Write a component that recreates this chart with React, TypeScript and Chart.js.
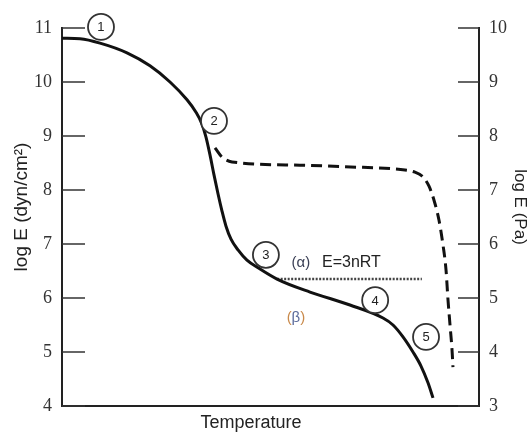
import React, { useEffect, useRef } from "react";
import { Chart, registerables } from "chart.js";

Chart.register(...registerables);

// Axis tick values
const leftTicks = [4, 5, 6, 7, 8, 9, 10, 11]; // log E (dyn/cm²)
const rightTicks = [3, 4, 5, 6, 7, 8, 9, 10]; // log E (Pa)

// Solid curve (modulus vs temperature)
const solidX = [0, 4.32, 9.11, 15.59, 21.1, 25.9, 29.98, 32.13, 33.57, 34.53, 35.49, 36.45, 37.41, 38.37, 39.33, 40.53, 42.21, 44.36, 47.0, 51.56, 59.47, 69.06, 76.98, 79.38, 81.77, 84.17, 86.09, 87.77, 88.97];
const solidY = [10.81, 10.8, 10.72, 10.54, 10.3, 10.0, 9.67, 9.44, 9.22, 8.98, 8.65, 8.28, 7.93, 7.61, 7.33, 7.09, 6.89, 6.7, 6.56, 6.35, 6.11, 5.87, 5.63, 5.5, 5.28, 5.0, 4.74, 4.43, 4.15];

// Dashed curve (crosslinked)
const dashX = [36.69, 38.37, 40.77, 57.07, 67.87, 82.25, 84.65, 86.33, 88.01, 89.21, 90.41, 91.37, 92.09, 92.57, 93.05, 93.53, 93.76];
const dashY = [8.78, 8.61, 8.52, 8.46, 8.43, 8.37, 8.33, 8.26, 8.07, 7.81, 7.44, 6.98, 6.52, 5.96, 5.5, 5.04, 4.72];

// Dotted line E = 3nRT
const dotX = [51.6, 86.3];
const dotY = [6.35, 6.35];

// Circled region markers
const markerLabels = ["1", "2", "3", "4", "5"];
const markerX = [9.35, 36.45, 48.9, 75.1, 87.3];
const markerY = [11.02, 9.28, 6.8, 5.96, 5.28];

// Text annotations
const alphaPos = { x: 57.3, y: 6.65 };
const eqPos = { x: 62.35, y: 6.65 };
const betaPos = { x: 56.1, y: 5.63 };

const toPts = (xs: number[], ys: number[]) => xs.map((x, i) => ({ x, y: ys[i] }));

const annotPlugin = {
  id: "annot",
  afterDraw(chart: any) {
    const c: CanvasRenderingContext2D = chart.ctx;
    const xs = chart.scales.x;
    const ys = chart.scales.y;
    const y2 = chart.scales.y2;
    c.save();
    // inward ticks
    c.strokeStyle = "#333";
    c.lineWidth = 1.5;
    leftTicks.forEach((v) => {
      const py = ys.getPixelForValue(v);
      c.beginPath();
      c.moveTo(xs.left, py);
      c.lineTo(xs.left + 23, py);
      c.stroke();
    });
    rightTicks.forEach((v) => {
      const py = y2.getPixelForValue(v);
      c.beginPath();
      c.moveTo(xs.right - 21, py);
      c.lineTo(xs.right, py);
      c.stroke();
    });
    // circled markers
    c.font = "13px 'Liberation Sans', Arial, sans-serif";
    c.textAlign = "center";
    c.textBaseline = "middle";
    markerLabels.forEach((lab, i) => {
      const px = xs.getPixelForValue(markerX[i]);
      const py = ys.getPixelForValue(markerY[i]);
      c.beginPath();
      c.arc(px, py, 13, 0, Math.PI * 2);
      c.fillStyle = "#fff";
      c.fill();
      c.strokeStyle = "#333";
      c.lineWidth = 1.8;
      c.stroke();
      c.fillStyle = "#222";
      c.fillText(lab, px, py + 1);
    });
    // (α) E=3nRT
    c.font = "15px 'Liberation Sans', Arial, sans-serif";
    c.fillStyle = "#3a3f55";
    c.fillText("(α)", xs.getPixelForValue(alphaPos.x), ys.getPixelForValue(alphaPos.y));
    c.textAlign = "left";
    c.fillStyle = "#222";
    c.font = "16px 'Liberation Sans', Arial, sans-serif";
    c.fillText("E=3nRT", xs.getPixelForValue(eqPos.x), ys.getPixelForValue(eqPos.y));
    // (β) with mixed colours
    c.font = "15px 'Liberation Sans', Arial, sans-serif";
    const bx = xs.getPixelForValue(betaPos.x);
    const by = ys.getPixelForValue(betaPos.y);
    const parts = [
      { t: "(", col: "#c98a4b" },
      { t: "β", col: "#5a6a9a" },
      { t: ")", col: "#c98a4b" },
    ];
    const total = parts.reduce((s, p) => s + c.measureText(p.t).width, 0);
    let cx = bx - total / 2;
    parts.forEach((p) => {
      c.fillStyle = p.col;
      c.fillText(p.t, cx, by);
      cx += c.measureText(p.t).width;
    });
    // axis titles
    c.fillStyle = "#222";
    c.textAlign = "center";
    c.font = "19px 'Liberation Sans', Arial, sans-serif";
    c.save();
    c.translate(22, 207);
    c.rotate(-Math.PI / 2);
    c.fillText("log E (dyn/cm²)", 0, 0);
    c.restore();
    c.font = "17px 'Liberation Sans', Arial, sans-serif";
    c.save();
    c.translate(520, 207);
    c.rotate(Math.PI / 2);
    c.fillText("log E (Pa)", 0, 0);
    c.restore();
    c.font = "18px 'Liberation Sans', Arial, sans-serif";
    c.fillText("Temperature", 251, 423);
    c.restore();
  },
};

export default function App() {
  const ref = useRef<HTMLCanvasElement>(null);
  useEffect(() => {
    document.body.style.margin = "0";
    document.body.style.overflow = "hidden";
    const canvas = ref.current!;
    const chart = new Chart(canvas, {
      type: "line",
      data: {
        datasets: [
          {
            data: toPts(solidX, solidY),
            borderColor: "#111",
            borderWidth: 3,
            pointRadius: 0,
            cubicInterpolationMode: "monotone",
            fill: false,
          },
          {
            data: toPts(dashX, dashY),
            borderColor: "#111",
            borderWidth: 3,
            borderDash: [11, 6],
            pointRadius: 0,
            cubicInterpolationMode: "monotone",
            fill: false,
          },
          {
            data: toPts(dotX, dotY),
            borderColor: "#444",
            borderWidth: 2.5,
            borderDash: [2, 1.5],
            pointRadius: 0,
            fill: false,
          },
        ],
      },
      options: {
        responsive: false,
        animation: false,
        layout: { padding: { top: 28, left: 0, right: 0, bottom: 0 } },
        plugins: { legend: { display: false }, tooltip: { enabled: false } },
        scales: {
          x: {
            type: "linear",
            position: "bottom",
            min: 0,
            max: 100,
            ticks: { display: false },
            grid: { display: false, drawTicks: false },
            border: { display: true, color: "#222", width: 2 },
            afterFit: (s: any) => {
              s.height = 26;
            },
          },
          y: {
            type: "linear",
            position: "left",
            min: 4,
            max: 11,
            afterBuildTicks: (s: any) => {
              s.ticks = leftTicks.map((v) => ({ value: v }));
            },
            ticks: {
              font: { family: "'Liberation Serif', serif", size: 18 },
              color: "#333",
              padding: 10,
            },
            grid: { display: false, drawTicks: false },
            border: { display: true, color: "#222", width: 2 },
            afterFit: (s: any) => {
              s.width = 62;
            },
          },
          y2: {
            type: "linear",
            position: "right",
            min: 3,
            max: 10,
            afterBuildTicks: (s: any) => {
              s.ticks = rightTicks.map((v) => ({ value: v }));
            },
            ticks: {
              font: { family: "'Liberation Serif', serif", size: 18 },
              color: "#333",
              padding: 10,
            },
            grid: { display: false, drawTicks: false },
            border: { display: true, color: "#222", width: 2 },
            afterFit: (s: any) => {
              s.width = 53;
            },
          },
        },
      } as any,
      plugins: [annotPlugin],
    });
    return () => chart.destroy();
  }, []);
  return <canvas ref={ref} width={532} height={432} style={{ display: "block" }} />;
}
